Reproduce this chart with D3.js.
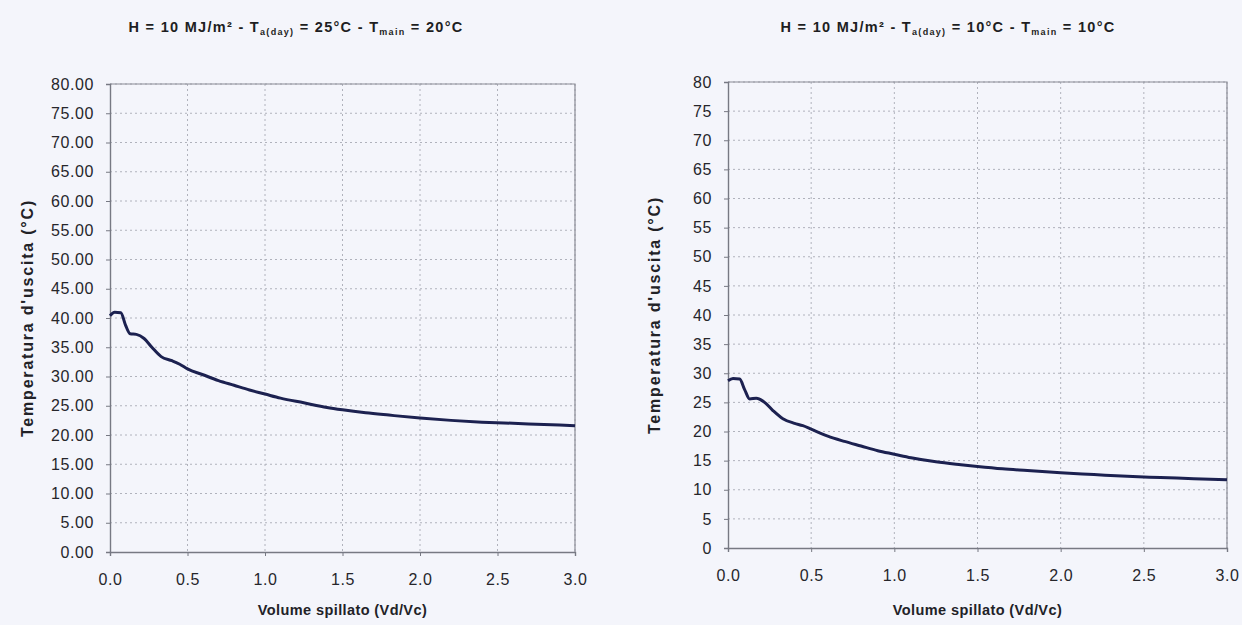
<!DOCTYPE html>
<html>
<head>
<meta charset="utf-8">
<script src="https://cdn.jsdelivr.net/npm/d3@7"></script>
<style>
  body { margin: 0; background: #f4f5fb; }
  svg { display: block; font-family: "Liberation Sans", Arial, sans-serif; }
</style>
</head>
<body>
<div id="chart"></div>
<script>
// x values (Vd/Vc) shared by both curves
const volume = [0.00, 0.03, 0.07, 0.10, 0.13, 0.17, 0.22, 0.27, 0.33, 0.40, 0.45, 0.50, 0.60, 0.70, 0.80, 0.90, 1.00, 1.10, 1.25, 1.40, 1.50, 1.65, 1.80, 2.00, 2.20, 2.40, 2.60, 2.80, 3.00];
// left panel: T_a(day) = 25°C, T_main = 20°C
const tempLeft = [40.4, 41.0, 40.9, 38.8, 37.3, 37.2, 36.5, 35.0, 33.4, 32.7, 32.1, 31.3, 30.3, 29.3, 28.5, 27.7, 27.0, 26.3, 25.5, 24.7, 24.3, 23.8, 23.4, 22.9, 22.5, 22.2, 22.0, 21.8, 21.6];
// right panel: T_a(day) = 10°C, T_main = 10°C
const tempRight = [28.7, 29.1, 29.0, 27.2, 25.6, 25.7, 25.0, 23.6, 22.2, 21.4, 21.0, 20.4, 19.2, 18.3, 17.5, 16.7, 16.1, 15.5, 14.8, 14.3, 14.0, 13.6, 13.3, 12.9, 12.6, 12.3, 12.1, 11.9, 11.7];

const xTicks = [0, 0.5, 1, 1.5, 2, 2.5, 3];
const yTicks = d3.range(0, 81, 5);

const panels = [
    {left: 110, top: 84, right: 575, bottom: 552, yFmt: d3.format(".2f"), yTitleX: 33,
     ta: "25°C", tm: "20°C", titleX: 296, temps: tempLeft},
    {left: 728, top: 82, right: 1227, bottom: 548, yFmt: d3.format("d"), yTitleX: 660,
     ta: "10°C", tm: "10°C", titleX: 948, temps: tempRight}
];

const svg = d3.select("#chart").append("svg")
    .attr("width", 1242)
    .attr("height", 625);

svg.append("rect").attr("width", 1242).attr("height", 625).attr("fill", "#f4f5fb");

panels.forEach(function(p) {
    let x = d3.scaleLinear().domain([0, 3]).range([p.left, p.right]);
    let y = d3.scaleLinear().domain([0, 80]).range([p.bottom, p.top]);

    let g = svg.append("g");

    // grid
    g.append("g").selectAll("line").data(yTicks.slice(1))
        .join("line")
        .attr("x1", p.left).attr("x2", p.right)
        .attr("y1", d => y(d)).attr("y2", d => y(d))
        .attr("stroke", "#b0b2bc").attr("stroke-width", 1)
        .attr("stroke-dasharray", "2,3");
    g.append("g").selectAll("line").data(xTicks.slice(1))
        .join("line")
        .attr("x1", d => x(d)).attr("x2", d => x(d))
        .attr("y1", p.top).attr("y2", p.bottom)
        .attr("stroke", "#b0b2bc").attr("stroke-width", 1)
        .attr("stroke-dasharray", "2,3");

    // frame top / right
    g.append("path")
        .attr("d", `M${p.left},${p.top}H${p.right}V${p.bottom}`)
        .attr("fill", "none").attr("stroke", "#8a8c96").attr("stroke-width", 1.2);

    // axes
    let yAxis = d3.axisLeft(y).tickValues(yTicks).tickFormat(p.yFmt).tickSize(4).tickPadding(12);
    let xAxis = d3.axisBottom(x).tickValues(xTicks).tickFormat(d3.format(".1f")).tickSize(4).tickPadding(18);

    let ya = g.append("g").attr("transform", `translate(${p.left},0)`).call(yAxis);
    let xa = g.append("g").attr("transform", `translate(0,${p.bottom})`).call(xAxis);
    [ya, xa].forEach(function(a) {
        a.select(".domain").attr("stroke", "#777983").attr("stroke-width", 1.4);
        a.selectAll(".tick line").attr("stroke", "#777983");
        a.selectAll(".tick text").attr("fill", "#26262b")
            .style("font-size", "16px").style("letter-spacing", "0.6px");
    });

    // curve
    let line = d3.line()
        .x((d, i) => x(volume[i]))
        .y(d => y(d))
        .curve(d3.curveMonotoneX);
    g.append("path")
        .datum(p.temps)
        .attr("d", line)
        .attr("fill", "none")
        .attr("stroke", "#1c2150")
        .attr("stroke-width", 3);

    // axis titles
    g.append("text")
        .attr("x", (p.left + p.right) / 2)
        .attr("y", 615)
        .attr("text-anchor", "middle")
        .style("font-size", "14.5px").style("font-weight", "bold").style("letter-spacing", "0.4px")
        .attr("fill", "#222227")
        .text("Volume spillato (Vd/Vc)");
    g.append("text")
        .attr("transform", `translate(${p.yTitleX},${(p.top + p.bottom) / 2}) rotate(-90)`)
        .attr("text-anchor", "middle")
        .style("font-size", "16px").style("font-weight", "bold").style("letter-spacing", "1.8px")
        .attr("fill", "#222227")
        .text("Temperatura d'uscita (°C)");

    // chart title
    let t = g.append("text")
        .attr("x", p.titleX).attr("y", 32)
        .attr("text-anchor", "middle")
        .style("font-size", "14.5px").style("font-weight", "bold").style("letter-spacing", "1.3px")
        .attr("fill", "#1e1e22");
    t.append("tspan").text("H = 10 MJ/m² - T");
    t.append("tspan").attr("dy", 3).style("font-size", "9px").text("a(day)");
    t.append("tspan").attr("dy", -3).text(" = " + p.ta + " - T");
    t.append("tspan").attr("dy", 3).style("font-size", "9px").text("main");
    t.append("tspan").attr("dy", -3).text(" = " + p.tm);
});
</script>
</body>
</html>
